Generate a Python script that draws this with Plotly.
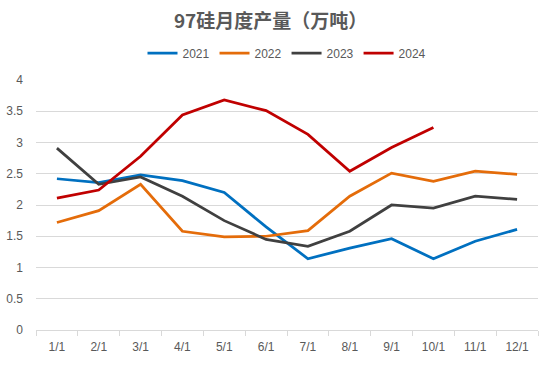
import plotly.graph_objects as go

months = ["1/1", "2/1", "3/1", "4/1", "5/1", "6/1", "7/1", "8/1", "9/1", "10/1", "11/1", "12/1"]
y2021 = [2.42, 2.36, 2.48, 2.39, 2.20, 1.65, 1.14, 1.31, 1.46, 1.14, 1.42, 1.61]
y2022 = [1.72, 1.91, 2.33, 1.58, 1.49, 1.50, 1.59, 2.14, 2.51, 2.38, 2.54, 2.49]
y2023 = [2.91, 2.33, 2.45, 2.14, 1.75, 1.45, 1.34, 1.58, 2.00, 1.95, 2.14, 2.09]
y2024 = [2.11, 2.24, 2.78, 3.44, 3.68, 3.51, 3.13, 2.54, 2.92, 3.24]

series = [
    ("2021", y2021, "#0070C0"),
    ("2022", y2022, "#E46C0A"),
    ("2023", y2023, "#404040"),
    ("2024", y2024, "#C00000"),
]

fig = go.Figure()
for name, vals, color in series:
    fig.add_trace(go.Scatter(
        x=months[:len(vals)], y=vals, name=name, mode="lines",
        line=dict(color=color, width=2.75),
    ))

fig.update_layout(
    width=550, height=366,
    margin=dict(l=36, r=12, t=80, b=36),
    paper_bgcolor="white", plot_bgcolor="white",
    font=dict(family="Liberation Sans, Arial, sans-serif", color="#595959", size=12),
    title=dict(
        text="<b>97硅月度产量（万吨）</b>",
        font=dict(family="Noto Sans CJK SC", size=19, color="#595959"),
        x=0.492, xanchor="center", xref="container",
        y=1 - 21 / 366, yref="container", yanchor="middle",
    ),
    legend=dict(
        orientation="h", x=0.5, xanchor="center", y=1.108, yanchor="middle",
        font=dict(size=12, color="#595959"), itemwidth=30,
        traceorder="normal",
    ),
    showlegend=True,
)
fig.update_xaxes(
    type="category", range=[-0.5, 11.5], automargin=False,
    showgrid=False, showline=True, linecolor="#D9D9D9", linewidth=1,
    ticks="outside", tickson="boundaries", ticklen=5, tickcolor="#D9D9D9",
    ticklabelstandoff=6,
    tickfont=dict(size=12, color="#595959"),
)
fig.update_yaxes(
    range=[0, 4], dtick=0.5, automargin=False,
    showgrid=True, gridcolor="#D9D9D9", gridwidth=1,
    zeroline=True, zerolinecolor="#D9D9D9", zerolinewidth=1,
    showline=False, ticks="", ticklabelstandoff=12,
    tickfont=dict(size=12, color="#595959"),
)

fig.write_html("out.html", config={"displayModeBar": False},
               post_script="document.body.style.margin='0';")
